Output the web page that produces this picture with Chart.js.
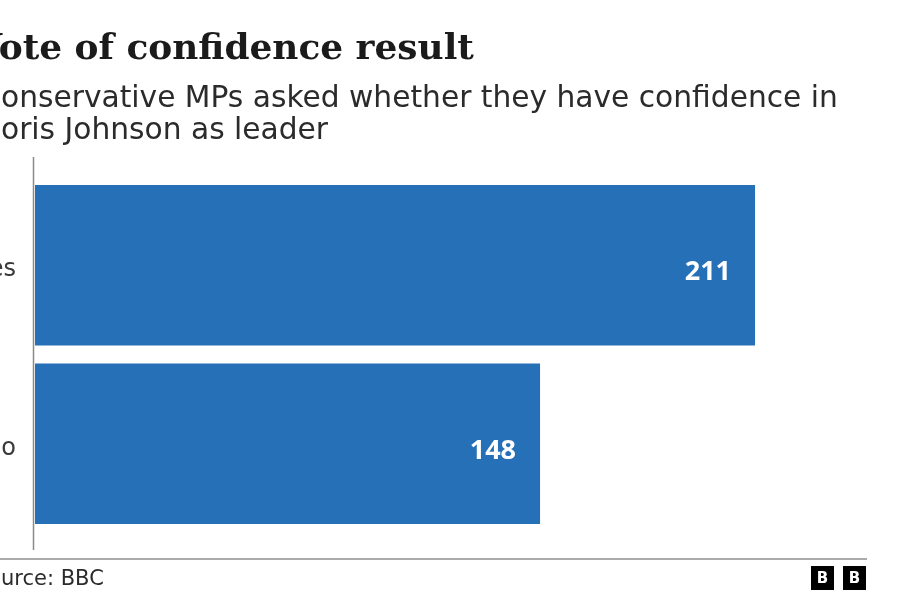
<!DOCTYPE html>
<html>
<head>
<meta charset="utf-8">
<script src="https://cdn.jsdelivr.net/npm/chart.js@4"></script>
<style>
  html, body { margin: 0; padding: 0; background: #fff; overflow: hidden; }
  #wrap { width: 900px; height: 601px; }
</style>
</head>
<body>
<div id="wrap"><canvas id="vote-chart" width="900" height="601"></canvas></div>
<script>
// Vote of confidence result
const categories = ['Yes', 'No'];
const votes = [211, 148];
const axisMax = 240;

const titleText = 'Vote of confidence result';
const subtitleLines = [
  'Conservative MPs asked whether they have confidence in',
  'Boris Johnson as leader'
];
const sourceText = 'Source: BBC';

const BAR_BLUE = '#2670b7';

// size a font so the visible part of a string matches a given width
function fitSize(ctx, weight, family, text, target) {
  ctx.font = `${weight} 40px ${family}`;
  return Math.round(40 * target / ctx.measureText(text).width * 10) / 10;
}

// Titles, source line and logo, all drawn onto the canvas
const frame = {
  id: 'frame',
  afterDraw(chart) {
    const ctx = chart.ctx;
    const area = chart.chartArea;
    ctx.save();
    ctx.textAlign = 'left';
    ctx.textBaseline = 'alphabetic';

    // title (first letter sits off the left edge, as in the source image)
    const tFam = '"DejaVu Serif"';
    const tSize = fitSize(ctx, 'bold', tFam, titleText.slice(1), 475);
    ctx.font = `bold ${tSize}px ${tFam}`;
    ctx.fillStyle = '#1b1b1b';
    ctx.fillText(titleText, 2 - ctx.measureText(titleText[0]).width, 59);

    // subtitle
    const sFam = '"DejaVu Sans"';
    const sSize = fitSize(ctx, 'normal', sFam, subtitleLines[0].slice(1), 836);
    ctx.font = `${sSize}px ${sFam}`;
    ctx.fillStyle = '#2b2b2b';
    subtitleLines.forEach((line, i) => {
      ctx.fillText(line, 1 - ctx.measureText(line[0]).width, 107 + i * 32);
    });

    // axis line, running past the bars a little
    ctx.strokeStyle = '#8a8a8a';
    ctx.lineWidth = 1.5;
    ctx.beginPath();
    ctx.moveTo(area.left - 1.5, area.top - 19);
    ctx.lineTo(area.left - 1.5, area.bottom + 17);
    ctx.stroke();

    // footer rule
    ctx.strokeStyle = '#8f8f8f';
    ctx.lineWidth = 1.5;
    ctx.beginPath();
    ctx.moveTo(0, 559);
    ctx.lineTo(867, 559);
    ctx.stroke();

    // source
    ctx.font = `21px ${sFam}`;
    ctx.fillStyle = '#2b2b2b';
    ctx.fillText(sourceText, 1 - ctx.measureText('So').width, 585);

    // BBC blocks
    ctx.textAlign = 'center';
    ctx.textBaseline = 'middle';
    ctx.font = `bold 15px ${sFam}`;
    [811, 843].forEach(x => {
      ctx.fillStyle = '#000';
      ctx.fillRect(x, 566, 23, 24);
      ctx.fillStyle = '#fff';
      ctx.fillText('B', x + 11.5, 579);
    });
    ctx.restore();
  }
};

// white value labels inside the end of each bar
const barValues = {
  id: 'barValues',
  afterDatasetsDraw(chart) {
    const ctx = chart.ctx;
    const meta = chart.getDatasetMeta(0);
    ctx.save();
    ctx.font = 'bold 27px "Open Sans"';
    ctx.fillStyle = '#fff';
    ctx.textAlign = 'right';
    ctx.textBaseline = 'alphabetic';
    meta.data.forEach((bar, i) => {
      ctx.fillText(String(votes[i]), bar.x - 24, bar.y + 15);
    });
    ctx.restore();
  }
};

const chart = new Chart(document.getElementById('vote-chart'), {
  type: 'bar',
  data: {
    labels: categories,
    datasets: [{
      data: votes,
      backgroundColor: BAR_BLUE,
      borderWidth: 0,
      barPercentage: 0.9,
      categoryPercentage: 1.0
    }]
  },
  options: {
    indexAxis: 'y',
    responsive: false,
    animation: false,
    layout: {
      padding: { top: 176, bottom: 68, left: 0, right: 46 }
    },
    scales: {
      x: {
        display: false,
        min: 0,
        max: axisMax
      },
      y: {
        afterFit: (scale) => { scale.width = 35; },
        grid: { display: false, drawTicks: false },
        border: { display: false },
        ticks: {
          padding: 19,
          labelOffset: 5,
          color: '#3a3a3a',
          font: { family: '"DejaVu Sans"', size: 24 }
        }
      }
    },
    plugins: {
      legend: { display: false },
      tooltip: { enabled: false }
    }
  },
  plugins: [frame, barValues]
});
</script>
</body>
</html>
